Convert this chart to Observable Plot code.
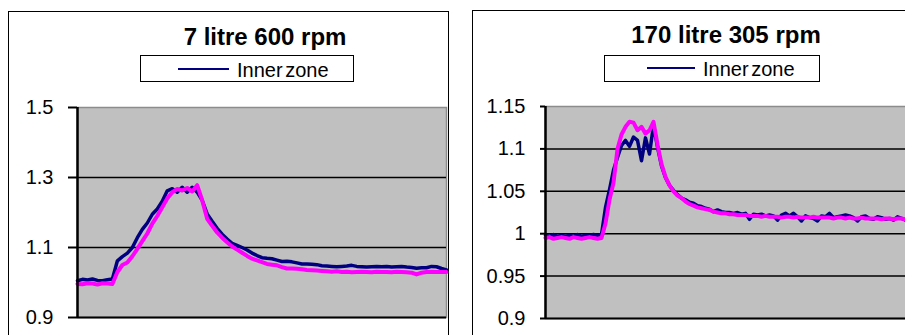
<!DOCTYPE html>
<html><head><meta charset="utf-8">
<script src="https://cdn.jsdelivr.net/npm/d3@7"></script>
<script src="https://cdn.jsdelivr.net/npm/@observablehq/plot@0.6"></script>
<style>
html,body{margin:0;padding:0;background:#fff;}
body{width:905px;height:335px;overflow:hidden;position:relative;font-family:"Liberation Sans",Arial,sans-serif;color:#000;}
.abs{position:absolute;}
.panel{position:absolute;border:1.5px solid #000;box-sizing:border-box;background:#fff;}
.title{position:absolute;font-weight:bold;font-size:24px;line-height:24px;white-space:nowrap;transform:translateX(-50%);}
.legend{position:absolute;border:1.5px solid #000;box-sizing:border-box;background:#fff;}
.lline{position:absolute;height:2px;background:#000080;}
.ltext{position:absolute;font-size:20px;line-height:20px;white-space:nowrap;word-spacing:-3px;}
</style>
</head><body>
<div class="panel" style="left:8px;top:11px;width:441px;height:400px;"></div>
<div class="panel" style="left:472px;top:10px;width:500px;height:400px;"></div>
<div id="left" class="abs" style="left:0;top:0;width:460px;"></div>
<div id="right" class="abs" style="left:460px;top:0;width:460px;"></div>
<div class="title" id="t1" style="left:265px;top:25px;"></div>
<div class="title" id="t2" style="left:726px;top:23px;"></div>
<div class="legend" style="left:140px;top:55px;width:214px;height:27px;"></div>
<div class="lline" style="left:178px;top:68px;width:51px;"></div>
<div class="ltext" id="l1" style="left:237px;top:60px;"></div>
<div class="legend" style="left:604px;top:55px;width:216px;height:27px;"></div>
<div class="lline" style="left:647px;top:67px;width:48px;"></div>
<div class="ltext" id="l2" style="left:703px;top:59px;"></div>
<script>
const titles = ["7 litre 600 rpm", "170 litre 305 rpm"];
const legendLabel = "Inner zone";

const leftTicks = [0.9, 1.1, 1.3, 1.5];
const leftGrid = [1.1, 1.3];
const rightTicks = [0.9, 0.95, 1, 1.05, 1.1, 1.15];
const rightGrid = [0.95, 1, 1.05, 1.1];

const leftBlue = [1.005,1.009,1.007,1.010,1.006,1.005,1.008,1.010,1.062,1.074,1.084,1.100,1.128,1.152,1.170,1.195,1.210,1.232,1.262,1.268,1.258,1.272,1.258,1.272,1.258,1.235,1.196,1.175,1.155,1.138,1.124,1.112,1.106,1.100,1.093,1.084,1.077,1.071,1.069,1.068,1.064,1.060,1.061,1.059,1.056,1.053,1.053,1.052,1.051,1.048,1.047,1.046,1.045,1.046,1.047,1.049,1.046,1.045,1.044,1.045,1.046,1.045,1.046,1.044,1.045,1.046,1.044,1.043,1.041,1.042,1.042,1.046,1.045,1.040,1.036];
const leftPink = [0.996,0.995,0.998,0.997,0.994,0.998,0.997,0.996,1.030,1.050,1.057,1.075,1.096,1.118,1.140,1.168,1.190,1.215,1.240,1.258,1.267,1.263,1.270,1.260,1.278,1.235,1.182,1.162,1.143,1.128,1.115,1.103,1.094,1.085,1.076,1.068,1.063,1.058,1.053,1.051,1.049,1.044,1.040,1.040,1.039,1.038,1.036,1.035,1.034,1.033,1.032,1.031,1.032,1.030,1.031,1.029,1.030,1.031,1.030,1.029,1.031,1.030,1.030,1.029,1.031,1.030,1.029,1.028,1.023,1.028,1.030,1.031,1.030,1.030,1.030];

const rightBlue = [0.998,0.997,0.999,0.997,0.998,0.997,0.998,0.997,0.999,0.997,0.998,0.998,0.999,0.998,0.999,1.031,1.052,1.075,1.090,1.104,1.110,1.103,1.114,1.110,1.086,1.113,1.094,1.128,1.102,1.080,1.066,1.057,1.051,1.046,1.042,1.040,1.037,1.036,1.033,1.032,1.030,1.029,1.026,1.028,1.026,1.025,1.025,1.024,1.025,1.023,1.024,1.017,1.023,1.022,1.023,1.021,1.022,1.021,1.016,1.022,1.024,1.021,1.024,1.020,1.015,1.021,1.019,1.018,1.015,1.021,1.020,1.024,1.019,1.020,1.021,1.022,1.021,1.019,1.015,1.020,1.021,1.018,1.017,1.020,1.019,1.017,1.018,1.016,1.020,1.018,1.016,1.017];
const rightPink = [0.995,0.996,0.994,0.995,0.996,0.995,0.994,0.996,0.995,0.994,0.995,0.996,0.995,0.994,0.995,1.012,1.040,1.060,1.100,1.117,1.126,1.132,1.131,1.122,1.126,1.118,1.122,1.132,1.105,1.082,1.067,1.057,1.050,1.045,1.042,1.038,1.035,1.033,1.031,1.030,1.029,1.028,1.026,1.025,1.024,1.024,1.023,1.023,1.022,1.022,1.022,1.021,1.021,1.021,1.020,1.021,1.020,1.020,1.020,1.019,1.020,1.020,1.019,1.020,1.019,1.019,1.019,1.020,1.019,1.019,1.019,1.019,1.018,1.019,1.019,1.018,1.019,1.018,1.018,1.019,1.018,1.018,1.018,1.018,1.017,1.018,1.018,1.017,1.018,1.018,1.017,1.018];

document.getElementById("t1").textContent = titles[0];
document.getElementById("t2").textContent = titles[1];
document.getElementById("l1").textContent = legendLabel;
document.getElementById("l2").textContent = legendLabel;

function panel(blue, pink, ticks, grid, domain, opts) {
  const data = blue.map((b, i) => ({i, blue: b, pink: pink[i]}));
  return Plot.plot({
    width: 460,
    height: 360,
    marginLeft: opts.ml,
    marginRight: opts.mr,
    marginTop: opts.mt,
    marginBottom: opts.mb,
    style: "background:transparent;font-family:'Liberation Sans',Arial,sans-serif;font-size:19px;color:#000;overflow:visible;",
    x: {domain: [0, blue.length - 1], axis: null},
    y: {domain},
    marks: [
      Plot.frame({fill: "#c0c0c0", stroke: "#8c8c8c", strokeWidth: 1.5}),
      Plot.ruleY(grid, {stroke: "#000", strokeWidth: 1.5}),
      Plot.ruleY([domain[0]], {stroke: "#000", strokeWidth: 2}),
      Plot.line(data, {x: "i", y: "blue", stroke: "#000080", strokeWidth: 3.5}),
      Plot.line(data, {x: "i", y: "pink", stroke: "#ff00ff", strokeWidth: 4}),
      Plot.ruleX([0], {stroke: "#000", strokeWidth: 2.5}),
      Plot.axisY({ticks, tickSize: opts.ts, tickPadding: 15, fontSize: 20, stroke: "#000", strokeWidth: 2, tickFormat: d => String(d)})
    ]
  });
}

document.getElementById("left").append(panel(leftBlue, leftPink, leftTicks, leftGrid, [0.9, 1.5], {ml: 77, mr: 14, mt: 107, mb: 43, ts: 9}));
document.getElementById("right").append(panel(rightBlue, rightPink, rightTicks, rightGrid, [0.9, 1.15], {ml: 85, mr: 11, mt: 106, mb: 42, ts: 5}));
</script>
</body></html>
